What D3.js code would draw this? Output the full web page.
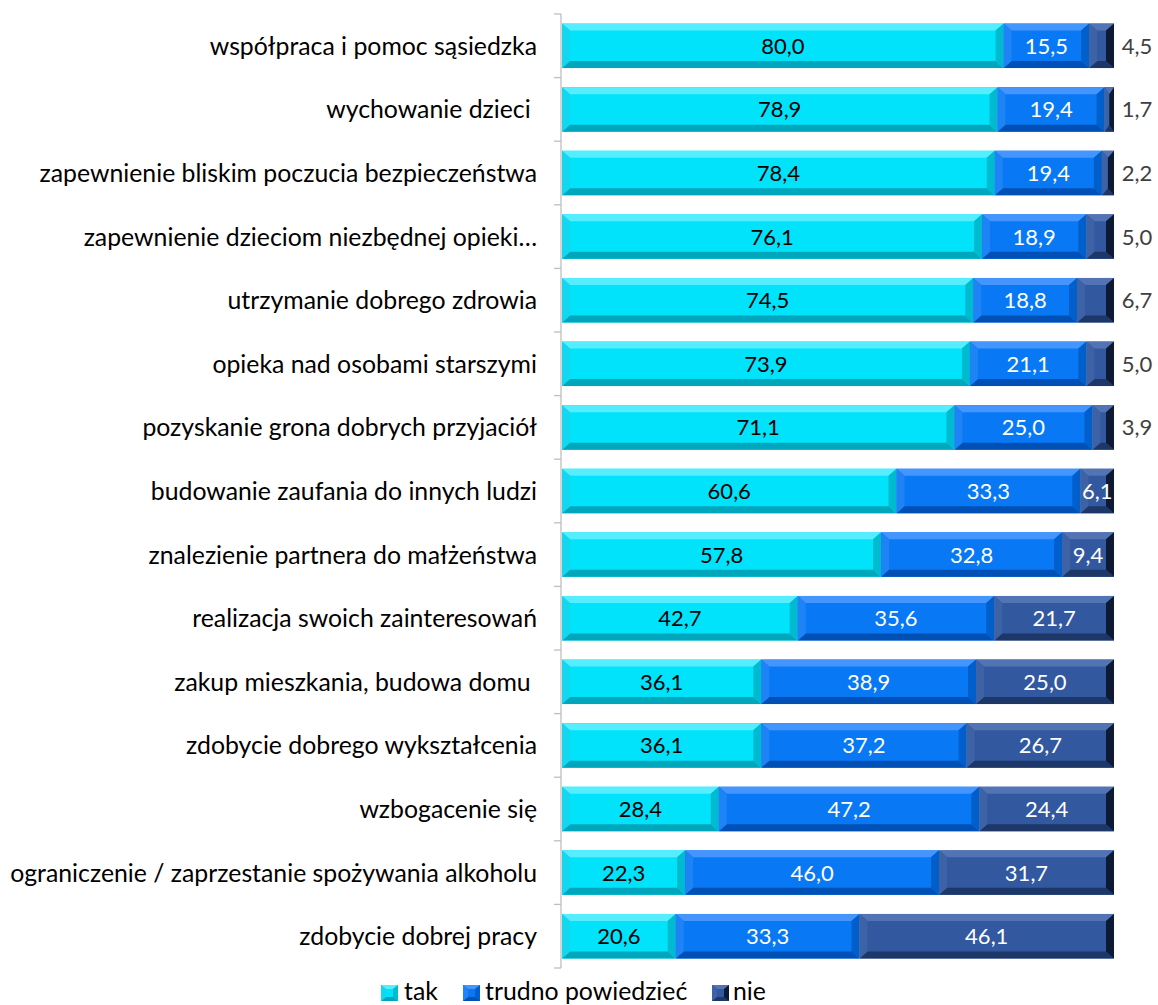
<!DOCTYPE html>
<html><head><meta charset="utf-8">
<script src="https://cdn.jsdelivr.net/npm/d3@7"></script>
<style>
html,body{margin:0;padding:0;background:#fff;}
svg{display:block;}
text{font-family:Lato,"Open Sans",sans-serif;}
</style></head>
<body>
<svg id="chart" width="1158" height="1005"></svg>
<script>
const categories = [
  "współpraca i pomoc sąsiedzka",
  "wychowanie dzieci ",
  "zapewnienie bliskim poczucia bezpieczeństwa",
  "zapewnienie dzieciom niezbędnej opieki…",
  "utrzymanie dobrego zdrowia",
  "opieka nad osobami starszymi",
  "pozyskanie grona dobrych przyjaciół",
  "budowanie zaufania do innych ludzi",
  "znalezienie partnera do małżeństwa",
  "realizacja swoich zainteresowań",
  "zakup mieszkania, budowa domu ",
  "zdobycie dobrego wykształcenia",
  "wzbogacenie się",
  "ograniczenie / zaprzestanie spożywania alkoholu",
  "zdobycie dobrej pracy"
];
const seriesNames = ["tak", "trudno powiedzieć", "nie"];
const tak = [80.0, 78.9, 78.4, 76.1, 74.5, 73.9, 71.1, 60.6, 57.8, 42.7, 36.1, 36.1, 28.4, 22.3, 20.6];
const trudno = [15.5, 19.4, 19.4, 18.9, 18.8, 21.1, 25.0, 33.3, 32.8, 35.6, 38.9, 37.2, 47.2, 46.0, 33.3];
const nie = [4.5, 1.7, 2.2, 5.0, 6.7, 5.0, 3.9, 6.1, 9.4, 21.7, 25.0, 26.7, 24.4, 31.7, 46.1];
// rows whose "nie" label sits outside the bar (as in the reference)
const nieOutside = [true, true, true, true, true, true, true, false, false, false, false, false, false, false, false];

const palette = [
  {face:"#00E3FA", top:"#55EDFF", bottom:"#00A6BC", left:"#14D6EE", right:"#00BACF", label:"#000000"},
  {face:"#0878F4", top:"#4595FF", bottom:"#0050B5", left:"#1E83F4", right:"#005FCA", label:"#FFFFFF"},
  {face:"#3258A0", top:"#5273B4", bottom:"#1D3768", left:"#3E62A6", right:"#0E1A33", label:"#FFFFFF"}
];

const svg = d3.select("#chart");
const axisX = 561;
const x = d3.scaleLinear().domain([0, 100]).range([562, 1114]);
const yBand = d3.scaleBand().domain(categories).range([14, 968]).padding(0);
const barFrac = 0.70;

const rows = categories.map((c, i) => {
  const vals = [tak[i], trudno[i], nie[i]];
  let acc = 0;
  return {cat: c, i, segs: vals.map((v, s) => { const o = {s, v, x0: acc, x1: acc + v}; acc += v; return o; })};
});

// axis
const axisG = svg.append("g");
axisG.append("line").attr("x1", axisX).attr("x2", axisX)
  .attr("y1", yBand.range()[0]).attr("y2", yBand.range()[1])
  .attr("stroke", "#BFBFBF").attr("stroke-width", 1.3);
const bounds = categories.map(c => yBand(c)).concat([yBand.range()[1]]);
axisG.selectAll("line.tick").data(bounds).join("line").attr("class", "tick")
  .attr("x1", axisX - 7).attr("x2", axisX).attr("y1", d => d).attr("y2", d => d)
  .attr("stroke", "#BFBFBF").attr("stroke-width", 1.3);

function bevel(g, bx, by, w, h, pal, maxB) {
  const b = Math.max(0, Math.min(maxB || 8, w / 2));
  const v = Math.min(maxB ? maxB - 1 : 7, h / 2);
  g.append("rect").attr("x", bx).attr("y", by).attr("width", w).attr("height", h).attr("fill", pal.face);
  const poly = (pts, fill) => g.append("polygon").attr("points", pts.map(p => p.join(",")).join(" ")).attr("fill", fill);
  poly([[bx, by], [bx + w, by], [bx + w - b, by + v], [bx + b, by + v]], pal.top);
  poly([[bx, by + h], [bx + w, by + h], [bx + w - b, by + h - v], [bx + b, by + h - v]], pal.bottom);
  poly([[bx, by], [bx + b, by + v], [bx + b, by + h - v], [bx, by + h]], pal.left);
  poly([[bx + w, by], [bx + w - b, by + v], [bx + w - b, by + h - v], [bx + w, by + h]], pal.right);
}

const barsG = svg.append("g");
const fmt = v => v.toFixed(1).replace(".", ",");
rows.forEach(r => {
  const y0 = yBand(r.cat) + yBand.bandwidth() * (1 - barFrac) / 2;
  const h = yBand.bandwidth() * barFrac;
  const g = barsG.append("g");
  r.segs.forEach(sg => {
    const bx = x(sg.x0), w = x(sg.x1) - x(sg.x0);
    bevel(g.append("g"), bx, y0, w, h, palette[sg.s]);
  });
  r.segs.forEach(sg => {
    const bx = x(sg.x0), w = x(sg.x1) - x(sg.x0);
    const outside = sg.s === 2 && nieOutside[r.i];
    g.append("text")
      .attr("x", outside ? 1137 : bx + w / 2)
      .attr("y", y0 + h / 2)
      .attr("dy", "0.36em")
      .attr("text-anchor", "middle")
      .attr("font-size", 22)
      .attr("fill", outside ? "#404040" : palette[sg.s].label)
      .text(fmt(sg.v));
  });
});

// category labels
const labG = svg.append("g");
const labs = labG.selectAll("text").data(categories).join("text")
  .attr("x", 537)
  .attr("y", c => yBand(c) + yBand.bandwidth() / 2)
  .attr("dy", "0.36em")
  .attr("text-anchor", "end")
  .attr("font-size", 20)
  .attr("fill", "#000")
  .style("white-space", "pre")
  .text(c => c);
const longest = labs.filter((d, i) => i === 13).node().getComputedTextLength();
const fs = 20 * 527 / longest;
labs.attr("font-size", fs);

// legend
const legend = [
  {name: seriesNames[0], sx: 381, tx: 404},
  {name: seriesNames[1], sx: 463, tx: 485},
  {name: seriesNames[2], sx: 712, tx: 733}
];
const legG = svg.append("g");
legend.forEach((l, i) => {
  bevel(legG.append("g"), l.sx, 985, 17, 16, palette[i], 5);
  legG.append("text").attr("x", l.tx).attr("y", 1000).attr("font-size", fs).attr("fill", "#000").text(l.name);
});
</script>
</body></html>
